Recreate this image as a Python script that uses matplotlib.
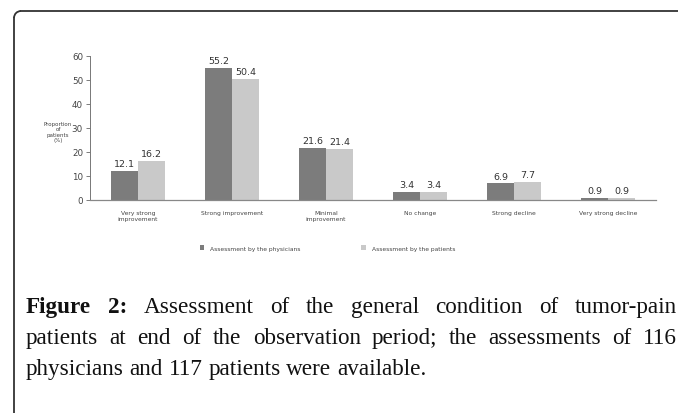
import matplotlib
matplotlib.use("Agg")
import matplotlib.pyplot as plt
import numpy as np
from matplotlib.lines import Line2D
from matplotlib.patches import Arc

categories = ["Very strong\nimprovement", "Strong improvement", "Minimal\nimprovement",
              "No change", "Strong decline", "Very strong decline"]
physicians = [12.1, 55.2, 21.6, 3.4, 6.9, 0.9]
patients = [16.2, 50.4, 21.4, 3.4, 7.7, 0.9]
series_names = ["Assessment by the physicians", "Assessment by the patients"]
yticks = [0, 10, 20, 30, 40, 50, 60]
caption_lines = [
    ["Figure", "2:", "Assessment", "of", "the", "general", "condition", "of", "tumor-pain"],
    ["patients", "at", "end", "of", "the", "observation", "period;", "the", "assessments", "of", "116"],
    ["physicians", "and", "117", "patients", "were", "available."],
]
bold_words = {(0, 0), (0, 1)}

W, H = 678, 414
fig = plt.figure(figsize=(W / 100, H / 100), dpi=100)
fig.patch.set_facecolor("white")

ax = fig.add_axes([90 / W, 1 - 201 / H, (656 - 90) / W, (201 - 57) / H])
x = np.arange(len(categories))
bw = 0.287
c_phys = "#7c7c7c"
c_pat = "#c9c9c9"
b1 = ax.bar(x - bw / 2, physicians, bw, color=c_phys, label=series_names[0])
b2 = ax.bar(x + bw / 2, patients, bw, color=c_pat, label=series_names[1])
for rects, vals in ((b1, physicians), (b2, patients)):
    for r, v in zip(rects, vals):
        ax.text(r.get_x() + r.get_width() / 2, v + 1.2, f"{v}", ha="center", va="bottom",
                fontsize=6.8, color="#333333")

ax.set_xlim(-0.51, len(categories) - 0.49)
ax.set_ylim(0, 60)
ax.set_yticks(yticks)
ax.set_yticklabels([str(t) for t in yticks], fontsize=6.3, color="#444444")
ax.tick_params(axis="y", length=3, width=0.6, color="#666666", pad=2)
ax.set_xticks(x)
ax.set_xticklabels(categories, fontsize=4.3, color="#444444", linespacing=1.2)
ax.tick_params(axis="x", length=0, pad=7)
for s in ("top", "right"):
    ax.spines[s].set_visible(False)
ax.spines["left"].set_color("#777777")
ax.spines["bottom"].set_color("#888888")
ax.spines["left"].set_linewidth(0.7)
ax.spines["bottom"].set_linewidth(0.9)

ax.text(-0.51 - 32 / 94, 28.5, "Proportion\nof\npatients\n(%)",
        fontsize=4, color="#444444", ha="center", va="center", linespacing=1.1)

leg = fig.legend(handles=[b1, b2], loc="center left",
                 bbox_to_anchor=(200 / W, 1 - 249 / H), ncol=2, frameon=False,
                 fontsize=4.3, handlelength=0.7, handleheight=0.7, handletextpad=1.0,
                 columnspacing=10.2, borderpad=0, borderaxespad=0)
for t in leg.get_texts():
    t.set_color("#444444")

# frame border: left line, rounded top-left corner, top line
r = 7
lc = "#333333"
fig.add_artist(Line2D([14 / W, 14 / W], [0, 1 - (12 + r) / H], transform=fig.transFigure,
                      color=lc, lw=1.3))
fig.add_artist(Line2D([(14 + r) / W, 1], [1 - 12 / H, 1 - 12 / H], transform=fig.transFigure,
                      color=lc, lw=1.3))
arc = Arc(((14 + r), H - (12 + r)), 2 * r, 2 * r, theta1=90, theta2=180,
          transform=None, color=lc, lw=1.3)
fig.add_artist(arc)

# caption (justified text)
renderer = fig.canvas.get_renderer()
family = "Liberation Serif"
probe = fig.text(0, 0, " ".join(caption_lines[2]), fontsize=10, family=family)
wp = probe.get_window_extent(renderer).width
probe.remove()
fs = 10 * 400 / wp
left_px, right_px = 26, 677
baselines = [313, 344, 375]
for li, words in enumerate(caption_lines):
    arts = []
    for wi, w in enumerate(words):
        t = fig.text(0, 0, w, fontsize=fs, family=family,
                     fontweight="bold" if (li, wi) in bold_words else "normal",
                     color="#111111", va="baseline", ha="left", transform=None)
        arts.append(t)
    widths = [a.get_window_extent(renderer).width for a in arts]
    if li < len(caption_lines) - 1:
        gap = (right_px - left_px - sum(widths)) / (len(words) - 1)
    else:
        sp = fig.text(0, 0, "a a", fontsize=fs, family=family)
        sa = fig.text(0, 0, "aa", fontsize=fs, family=family)
        gap = sp.get_window_extent(renderer).width - sa.get_window_extent(renderer).width
        sp.remove(); sa.remove()
    xp = left_px
    for a, w in zip(arts, widths):
        a.set_position((xp, H - baselines[li]))
        xp += w + gap

fig.savefig("out.png", dpi=100)
